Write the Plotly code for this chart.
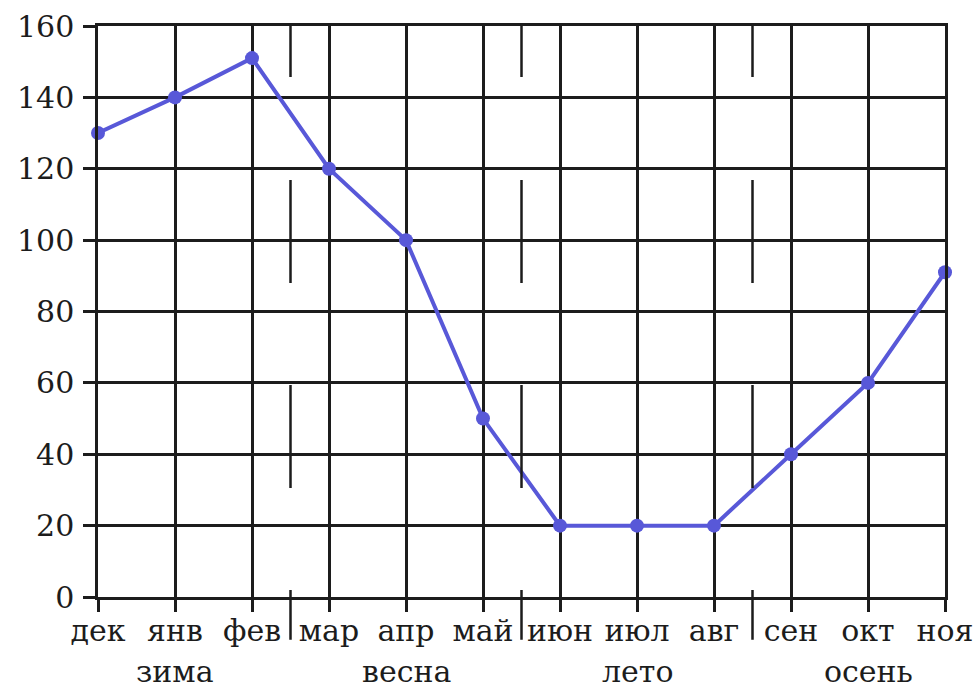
import plotly.graph_objects as go

months = ["дек", "янв", "фев", "мар", "апр", "май", "июн", "июл", "авг", "сен", "окт", "ноя"]
values = [130, 140, 151, 120, 100, 50, 20, 20, 20, 40, 60, 91]
seasons = ["зима", "весна", "лето", "осень"]
season_center_idx = [1, 4, 7, 10]
season_break_idx = [2.5, 5.5, 8.5]
y_ticks = [0, 20, 40, 60, 80, 100, 120, 140, 160]

FONT = "DejaVu Serif"
FS = 30
INK = "#1c1c1c"
LINE = "#5858d8"
GW = 2.5

fig = go.Figure()
fig.add_trace(go.Scatter(
    x=list(range(len(months))), y=values, mode="lines+markers",
    line=dict(color=LINE, width=4),
    marker=dict(color=LINE, size=14),
    cliponaxis=False, showlegend=False,
))

n = len(months)
shapes = []
for b in season_break_idx:
    shapes.append(dict(
        type="line", xref="paper", yref="paper",
        x0=b / (n - 1), x1=b / (n - 1), y0=1.0, y1=-12 / 160,
        line=dict(color=INK, width=GW, dash="51px,103px,103px,102px,103px,102px,50px"),
        layer="above",
    ))

annotations = []
for s, i in zip(seasons, season_center_idx):
    annotations.append(dict(
        x=i, xref="x", y=-0.131, yref="paper", text=s, showarrow=False,
        font=dict(family=FONT, size=FS, color=INK), yanchor="middle", xanchor="center",
    ))

fig.update_layout(
    width=980, height=700,
    margin=dict(l=98, r=35, t=26, b=103, autoexpand=False),
    plot_bgcolor="white", paper_bgcolor="white",
    font=dict(family=FONT, size=FS, color=INK),
    shapes=shapes, annotations=annotations,
    xaxis=dict(
        range=[0, n - 1], tickmode="array", tickvals=list(range(n)), ticktext=months,
        showgrid=True, gridcolor=INK, gridwidth=GW,
        ticks="outside", ticklen=12, tickwidth=GW, tickcolor=INK,
        showline=True, mirror=True, linecolor=INK, linewidth=GW,
        zeroline=False, fixedrange=True, automargin=False,
        ticklabelstandoff=-7,
        tickfont=dict(family=FONT, size=FS, color=INK),
    ),
    yaxis=dict(
        range=[0, 160], tickmode="array", tickvals=y_ticks,
        showgrid=True, gridcolor=INK, gridwidth=GW,
        ticks="outside", ticklen=12, tickwidth=GW, tickcolor=INK,
        showline=True, mirror=True, linecolor=INK, linewidth=GW,
        zeroline=False, automargin=False, fixedrange=True,
        ticklabelstandoff=3,
        tickfont=dict(family=FONT, size=FS, color=INK),
    ),
)

fig.write_html("out.html", config={"displayModeBar": False},
               post_script="document.body.style.margin='0';")
